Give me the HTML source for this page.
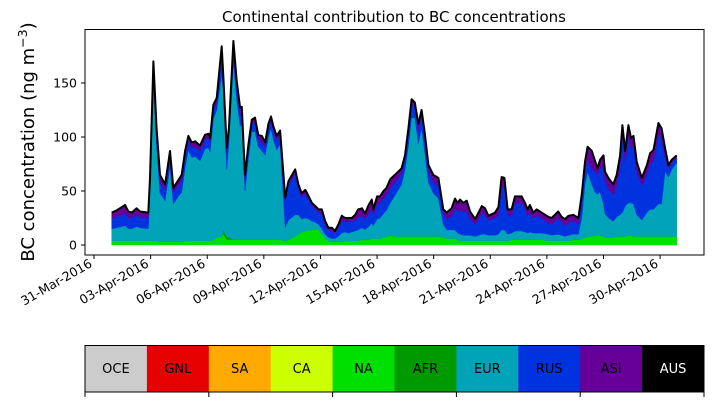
<!DOCTYPE html>
<html><head><meta charset="utf-8"><style>
body{margin:0;background:#fff;}
svg{display:block;font-family:"DejaVu Sans","Liberation Sans",sans-serif;}
</style></head><body>
<svg id="chart" width="714" height="402" viewBox="0 0 714 402">
<text x="394" y="22" font-size="15" text-anchor="middle">Continental contribution to BC concentrations</text>
<text transform="translate(34,142) rotate(-90)" font-size="18" text-anchor="middle">BC concentration (ng m<tspan dy="-7" font-size="12.5">−3</tspan><tspan dy="7">)</tspan></text>
<g id="plot"></g>
<g id="xaxis"></g>
<g id="yaxis"></g>
<rect x="85" y="29.5" width="619" height="225.5" fill="none" stroke="#000" stroke-width="1"/>
<g id="legend"></g>
</svg>
<script>
// days since 31-Mar-2016
const days=[0.94,1.2,1.47,1.65,1.82,2.0,2.26,2.44,2.88,2.97,3.15,3.32,3.5,3.77,4.03,4.2,4.47,4.65,4.83,5.0,5.18,5.36,5.62,5.88,6.06,6.15,6.33,6.5,6.77,6.86,7.03,7.15,7.39,7.56,7.74,7.83,8.0,8.18,8.36,8.53,8.7,8.89,9.07,9.24,9.38,9.5,9.68,9.86,10.13,10.3,10.66,10.83,11.0,11.2,11.38,11.55,11.73,11.9,12.07,12.25,12.42,12.6,12.77,12.95,13.13,13.3,13.48,13.66,13.84,14.0,14.2,14.36,14.55,14.72,14.8,15.0,15.16,15.34,15.5,15.7,15.95,16.3,16.48,16.66,16.83,17.0,17.19,17.36,17.54,17.72,17.98,18.25,18.51,18.69,18.95,19.13,19.27,19.4,19.57,19.75,19.93,20.2,20.55,20.72,20.9,21.25,21.43,21.6,21.75,21.92,22.13,22.31,22.66,22.84,22.98,23.1,23.28,23.46,23.72,24.08,24.25,24.6,24.78,24.96,25.14,25.4,25.67,25.85,26.02,26.16,26.38,26.55,26.68,26.82,27.0,27.08,27.26,27.52,27.7,27.88,28.0,28.15,28.32,28.46,28.59,28.76,29.03,29.3,29.47,29.65,29.91,30.08,30.26,30.44,30.62,30.88];
const total=[30,32,35,37,31,30,34,31,30,62,170,108,65,56,87,53,60,65,87,101,95,96,92,102,103,99,130,136,184,155,90,108,189,152,127,128,65,93,116,118,102,101,95,112,119,110,101,106,44,59,70,56,48,51,45,39,36,33,33,22,16,16,13,19,27,25,25,25,28,33,34,29,37,42,33,45,45,50,53,61,65,71,83,108,135,132,112,125,102,74,65,62,33,30,34,43,39,42,39,41,31,24,36,34,27,30,35,63,62,33,33,45,45,39,33,37,30,33,30,26,25,31,26,24,27,28,25,47,77,91,87,78,71,79,83,68,62,56,65,83,111,87,111,99,101,77,62,74,85,88,113,108,90,74,79,83];
const na=[4,4,4,4,4,4,4,4,4,4,4,4,3,3,3,3,3,3,4,4,4,4,4,4,4,4,5,7,8,10,5,5,5,5,5,5,5,5,5,5,5,5,5,5,5,5,5,5,4,5,8,10,12,13,14,14,15,14,10,6,4,3,3,3,3,4,4,4,4,4,5,5,5,6,6,6,6,7,8,9,8,8,8,8,8,8,8,8,8,8,8,8,7,6,6,6,5,4,4,4,4,4,4,4,4,4,4,4,4,4,5,5,5,5,5,5,5,5,5,4,4,4,4,4,4,5,5,6,7,8,8,9,9,9,8,7,7,7,8,8,8,8,9,9,8,8,8,8,8,8,8,8,8,8,8,8];
const eur=[11,12,13,14,11,11,13,12,11,45,150,88,45,38,70,35,42,46,68,84,77,78,74,85,86,82,112,118,150,128,62,88,165,130,105,107,45,75,100,100,86,82,78,95,103,93,83,88,12,18,20,18,12,12,10,8,6,5,5,4,3,3,3,5,8,8,7,8,9,10,11,9,12,14,12,18,19,22,24,30,38,48,62,84,110,110,86,100,76,50,40,35,12,8,8,8,6,6,5,5,5,4,6,6,5,5,6,10,10,6,6,8,8,7,6,7,6,6,6,6,5,6,5,4,5,5,5,20,50,60,48,40,38,40,30,22,18,15,18,20,22,28,30,30,30,20,15,22,25,25,30,30,60,55,62,68];
const rus=[10,10,11,11,10,10,11,10,10,8,10,10,10,10,10,10,10,10,10,9,9,9,9,9,9,9,8,7,20,10,15,10,14,12,10,10,10,9,7,8,7,8,8,8,7,8,9,9,25,33,38,24,20,22,18,14,12,11,14,9,7,7,5,8,12,10,10,10,10,12,11,10,12,14,10,14,14,14,14,14,12,10,10,12,12,10,12,12,12,10,10,12,10,10,13,20,20,22,22,22,15,11,20,18,14,16,18,40,40,17,16,26,26,22,16,18,14,16,14,10,10,15,12,10,12,12,10,14,12,12,14,20,18,22,35,30,28,24,30,45,70,40,62,50,55,40,32,36,42,45,65,60,14,8,6,5];
const afr=days.map((d)=>0);
afr[30]=3;afr[29]=4;afr[31]=2;
const tickLabels=["31-Mar-2016","03-Apr-2016","06-Apr-2016","09-Apr-2016","12-Apr-2016","15-Apr-2016","18-Apr-2016","21-Apr-2016","24-Apr-2016","27-Apr-2016","30-Apr-2016"];
const tickDays=[0,3,6,9,12,15,18,21,24,27,30];
const yTicks=[0,50,100,150];
const sources=["OCE","GNL","SA","CA","NA","AFR","EUR","RUS","ASI","AUS"];
const sourceColors=["#cccccc","#e60000","#ffaa00","#ccff00","#00e000","#009900","#00a3b8","#0033e0","#660099","#000000"];

const NS="http://www.w3.org/2000/svg";
const X=d=>94+d*18.87;
const Y=v=>245-v*1.08;
function mk(tag,attrs,parent){const e=document.createElementNS(NS,tag);for(const k in attrs)e.setAttribute(k,attrs[k]);parent.appendChild(e);return e;}
const plot=document.getElementById('plot');
const asi=total.map((t,i)=>Math.max(0,t-na[i]-afr[i]-eur[i]-rus[i]));
const layers=[["NA",na,"#00e000"],["AFR",afr,"#009900"],["EUR",eur,"#00a3b8"],["RUS",rus,"#0033e0"],["ASI",asi,"#660099"]];
let base=days.map(()=>0);
layers.forEach(([name,vals,col])=>{
  const top=base.map((b,i)=>b+vals[i]);
  let d="M"+days.map((t,i)=>X(t).toFixed(1)+","+Y(top[i]).toFixed(1)).join("L");
  for(let i=days.length-1;i>=0;i--)d+="L"+X(days[i]).toFixed(1)+","+Y(base[i]).toFixed(1);
  const p=mk('path',{d:d+"Z",fill:col,stroke:col,'stroke-width':0.5},plot);
  
  
  base=top;
});
const line=mk('path',{d:"M"+days.map((t,i)=>X(t).toFixed(1)+","+Y(total[i]).toFixed(1)).join("L"),fill:"none",stroke:"#000","stroke-width":2,"stroke-linejoin":"round"},plot);



const xa=document.getElementById('xaxis');
tickDays.forEach((d,i)=>{
  const x=X(d);
  const t=mk('line',{x1:x,x2:x,y1:255,y2:259,stroke:"#000"},xa);
  
  
  const l=mk('text',{x:0,y:0,'font-size':12.5,'text-anchor':'end',transform:`translate(${x-1},${266}) rotate(-30)`},xa);
  l.textContent=tickLabels[i];
  
  
});
const ya=document.getElementById('yaxis');
yTicks.forEach(v=>{
  const y=Y(v);
  const t=mk('line',{x1:81,x2:85,y1:y,y2:y,stroke:"#000"},ya);
  
  
  const l=mk('text',{x:77,y:y+4.5,'font-size':12.5,'text-anchor':'end'},ya);
  l.textContent=v;
  
  
});
const lg=document.getElementById('legend');
const w=619/sources.length;
sources.forEach((s,i)=>{
  const r=mk('rect',{x:85+i*w,y:345.5,width:w+0.3,height:46.5,fill:sourceColors[i]},lg);
  
  
  const t=mk('text',{x:85+i*w+w/2,y:373,'font-size':13,'text-anchor':'middle',fill:s==="AUS"?"#fff":"#000"},lg);
  t.textContent=s;
  
  
});
const fr=mk('rect',{x:85,y:345.5,width:619,height:46.5,fill:"none",stroke:"#000"},lg);


for(let i=0;i<=5;i++){
  const x=85+i*2*w;
  const t=mk('line',{x1:x,x2:x,y1:392,y2:397,stroke:"#000"},lg);
  
  
}
</script>
</body></html>
